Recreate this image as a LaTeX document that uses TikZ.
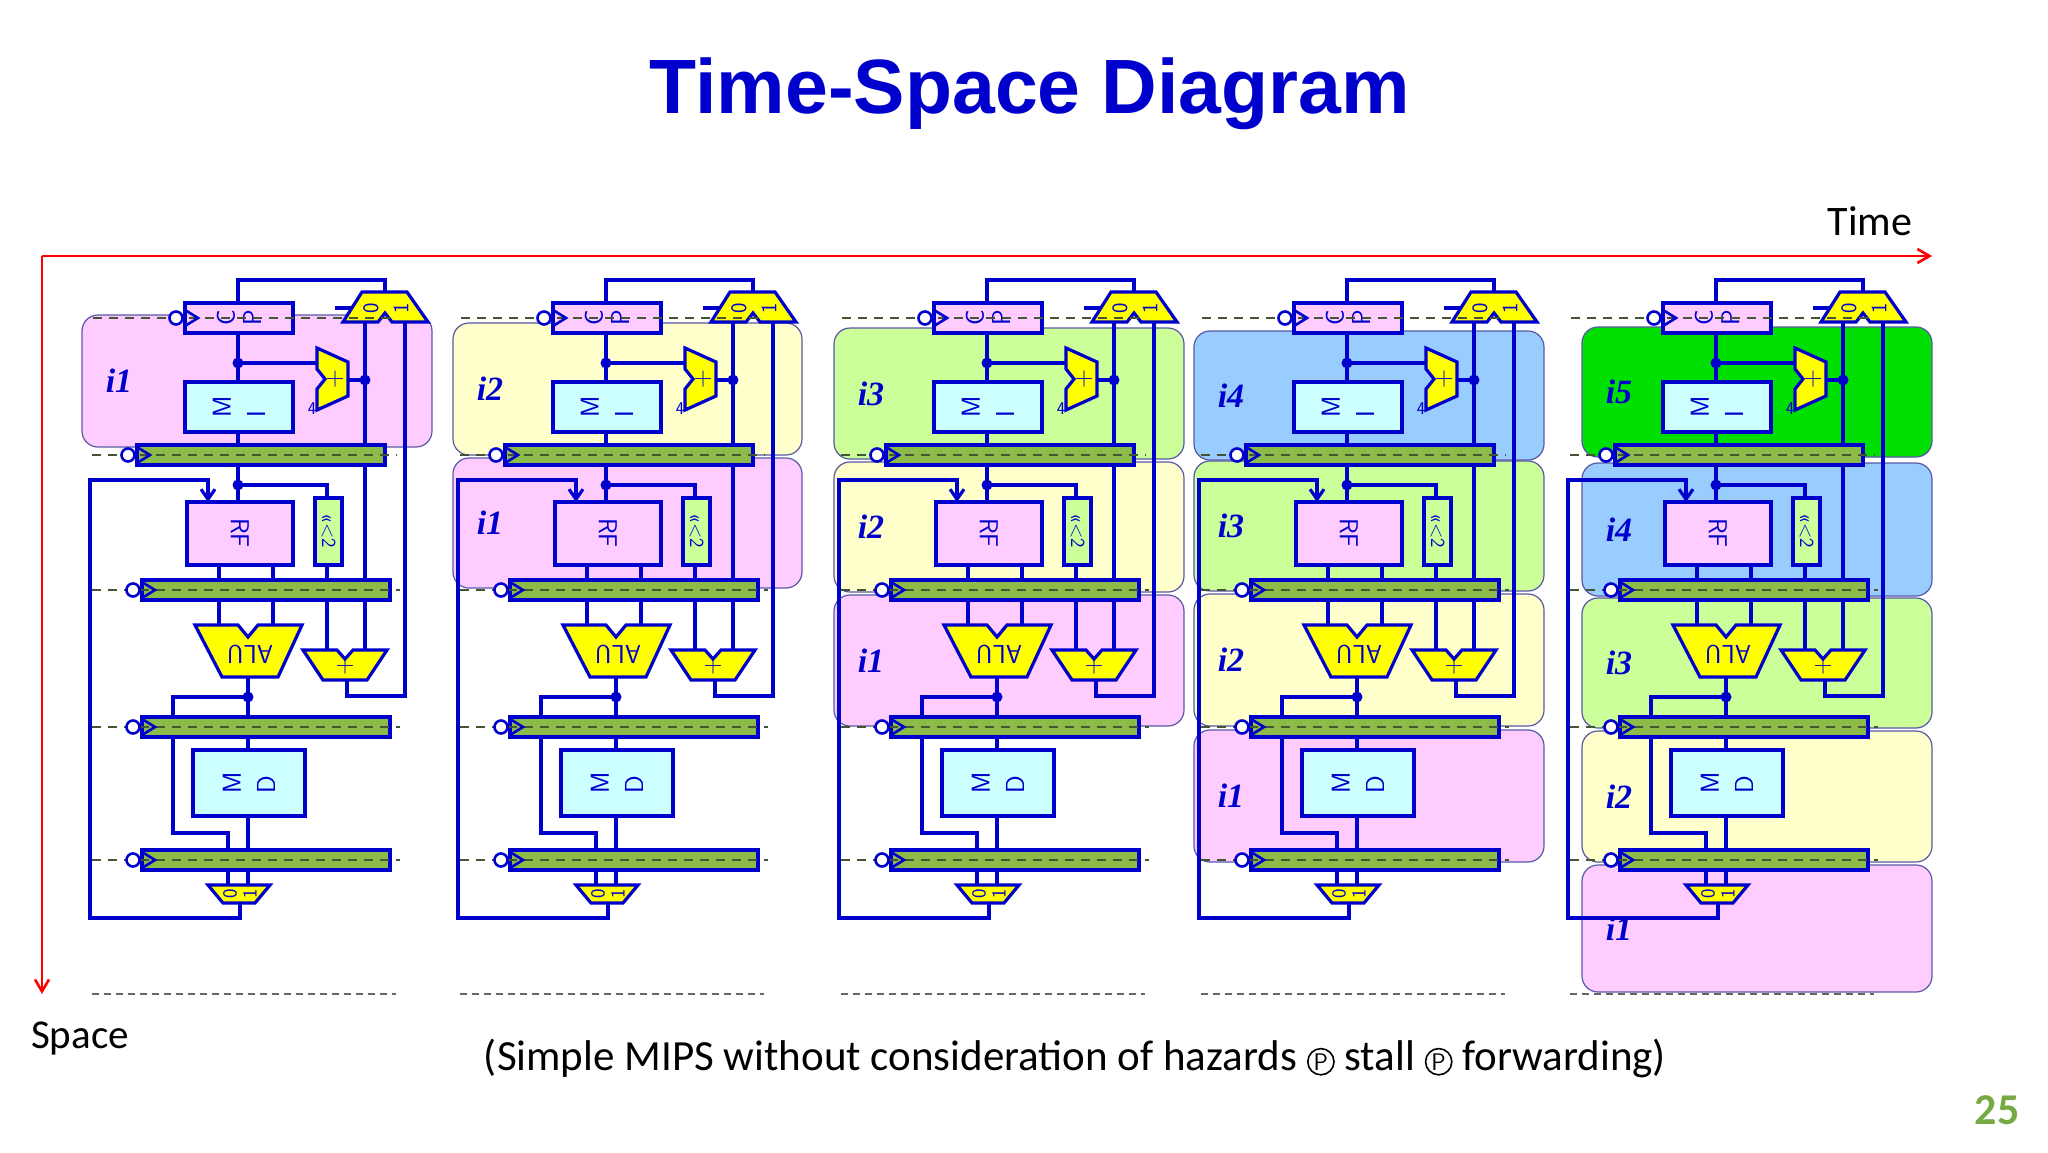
\documentclass[tikz,border=0pt]{standalone}
\usepackage{fontspec}
\setmainfont{Carlito}
\newfontfamily\titlefont{Liberation Sans}
\newfontfamily\ifont{Liberation Serif}
\usetikzlibrary{arrows.meta,calc}
\definecolor{wb}{HTML}{0000CC}
\definecolor{yel}{HTML}{FFFF00}
\definecolor{pnk}{HTML}{FFCCFF}
\definecolor{cyn}{HTML}{CCFFFF}
\definecolor{grb}{HTML}{8DBB4A}
\definecolor{lgr}{HTML}{CCFF99}
\definecolor{lye}{HTML}{FFFFCC}
\definecolor{lbl}{HTML}{99CCFF}
\definecolor{brg}{HTML}{00E000}
\definecolor{dsh}{HTML}{445533}
\definecolor{pgn}{HTML}{77AA44}
\tikzset{
 wire/.style={draw=wb,line width=3.2pt},
 blk/.style={draw=wb,line width=3.2pt},
 dashln/.style={draw=dsh,line width=1.8pt,dash pattern=on 9pt off 7pt},
 lab/.style={text=wb,font=\fontsize{26}{26}\selectfont\sffamily,inner sep=0pt},
 rgn/.style={draw=gray!70!blue,line width=1.2pt,rounded corners=16pt},
 ilab/.style={text=wb,font=\fontsize{34}{34}\selectfont\ifont\bfseries\itshape},
}
\newcommand\rl[1]{\rotatebox{90}{#1}}
\newcommand\cpP{\tikz[baseline=(cc.base)]\node[draw,circle,inner sep=1.5pt,line width=1.6pt,font=\fontsize{24}{24}\selectfont\sffamily] (cc) {P};}
\newcommand\region[6]{\filldraw[rgn,fill=#5] (#1,#2) rectangle (#3,#4);
 \node[ilab] (lab#6#1) at ($(#1,#2)!0.5!(#1,#4)+(37,0)$) {#6};}
\newcommand\clk[2]{\draw[wire,line width=2.6pt,fill=white] (#1-9,#2) circle (6.5);
 \draw[wire,line width=2.6pt] (#1,#2-8)--(#1+13,#2)--(#1,#2+8);}
\newcommand\dott[2]{\fill[wb] (#1,#2) circle (5.5);}
\newcommand\onecol[2]{%
\begin{scope}[xshift=#1pt]
 \draw[wire] (238,333)--(238,280)--(385,280)--(385,292);
 \draw[wire] (335,308)--(352,308);
 \draw[wire] (238,333)--(238,445);
 \draw[wire] (238,363)--(317,363);
 \draw[wire] (348,380)--(365,380);
 \draw[wire] (365,322)--(365,650);
 \draw[wire] (405,322)--(405,696)--(347,696)--(347,680);
 \draw[wire] (238,465)--(238,502);
 \draw[wire] (238,485)--(327,485)--(327,498);
 \draw[wire] (240,903)--(240,918)--(90,918)--(90,480)--(208,480);
 \draw[wire,-{Straight Barb[length=10pt,width=14pt]}] (208,478)--(208,502);
 \draw[wire] (219,565)--(219,625); \draw[wire] (273,565)--(273,625);
 \draw[wire] (327,565)--(327,650);
 \draw[wire] (248,677)--(248,750);
 \draw[wire] (248,697)--(173,697)--(173,833)--(228,833)--(228,885);
 \draw[wire] (248,816)--(248,885);
 \filldraw[blk,fill=yel] (362,292)--(407,292)--(428,322)--(392,322)--(385,313)--(378,322)--(343,322)--cycle;
 \node[lab,rotate=90,font=\fontsize{22}{22}\selectfont\sffamily] (m0#2) at (371,308) {0};
 \node[lab,rotate=90,font=\fontsize{22}{22}\selectfont\sffamily] (m1#2) at (401,308) {1};
 \filldraw[blk,fill=pnk] (185,303) rectangle (293,333);
 \node[lab] (pc#2) at (239,318) {\rl{C}\ \rl{P}};
 \filldraw[blk,fill=yel] (317,348)--(348,362)--(348,396)--(317,410)--(317,389)--(325,379)--(317,369)--cycle;
 \node[lab] (inc#2) at (335,379) {+};
 \node[lab,font=\fontsize{18}{18}\selectfont\sffamily] (four#2) at (312,409) {4};
 \filldraw[blk,fill=cyn] (185,382) rectangle (293,432);
 \node[lab] (im#2) at (239,407) {\rl{M}\ \ \rl{I}};
 \filldraw[blk,fill=grb] (137,445) rectangle (385,465);
 \filldraw[blk,fill=lgr] (315,498) rectangle (342,565);
 \node[lab,rotate=-90,font=\fontsize{20}{20}\selectfont\sffamily] (sh#2) at (328.5,531) {<<<2};
 \filldraw[blk,fill=pnk] (187,502) rectangle (293,565);
 \node[lab,rotate=-90] (rf#2) at (240,533) {RF};
 \filldraw[blk,fill=grb] (142,580) rectangle (390,600);
 \filldraw[blk,fill=yel] (195,625)--(238,625)--(248,637)--(258,625)--(302,625)--(278,677)--(222,677)--cycle;
 \node[lab,rotate=180] (alu#2) at (250,654) {ALU};
 \filldraw[blk,fill=yel] (303,650)--(337,650)--(345,659)--(353,650)--(387,650)--(367,680)--(323,680)--cycle;
 \node[lab] (badd#2) at (345,666) {+};
 \filldraw[blk,fill=grb] (142,717) rectangle (390,737);
 \filldraw[blk,fill=cyn] (193,750) rectangle (305,816);
 \node[lab] (dm#2) at (249,783) {\rl{M}\ \ \rl{D}};
 \filldraw[blk,fill=grb] (142,850) rectangle (390,870);
 \filldraw[blk,fill=yel] (208,885)--(270,885)--(255,903)--(223,903)--cycle;
 \node[lab,rotate=90,font=\fontsize{20}{20}\selectfont\sffamily] (w0#2) at (230,894) {0};
 \node[lab,rotate=90,font=\fontsize{20}{20}\selectfont\sffamily] (w1#2) at (250,894) {1};
 \draw[dashln] (93,318)--(393,318);
 \draw[dashln] (92,455)--(397,455);
 \draw[dashln] (92,590)--(400,590);
 \draw[dashln] (92,727)--(400,727);
 \draw[dashln] (92,860)--(400,860);
 \clk{185}{318}
 \clk{137}{455} \clk{142}{590} \clk{142}{727} \clk{142}{860}
 \dott{238}{363} \dott{365}{380} \dott{238}{485} \dott{248}{697}
 \draw[draw=gray!80!black,line width=1.6pt,dash pattern=on 7pt off 5pt] (92,994)--(396,994);
\end{scope}}
\begin{document}
\begin{tikzpicture}[x=1pt,y=-1pt]
\useasboundingbox (0,0) rectangle (2048,1152);
\fill[white] (0,0) rectangle (2048,1152);
\node[text=wb,font=\fontsize{77}{77}\selectfont\titlefont\bfseries] (title) at (1030,94) {Time-Space Diagram};
\region{82}{315}{432}{447}{pnk}{i1}
\region{453}{323}{802}{455}{lye}{i2}
\region{453}{458}{802}{588}{pnk}{i1}
\region{834}{328}{1184}{459}{lgr}{i3}
\region{834}{462}{1184}{592}{lye}{i2}
\region{834}{595}{1184}{726}{pnk}{i1}
\region{1194}{331}{1544}{460}{lbl}{i4}
\region{1194}{461}{1544}{591}{lgr}{i3}
\region{1194}{594}{1544}{726}{lye}{i2}
\region{1194}{730}{1544}{862}{pnk}{i1}
\region{1582}{327}{1932}{457}{brg}{i5}
\region{1582}{463}{1932}{596}{lbl}{i4}
\region{1582}{598}{1932}{728}{lgr}{i3}
\region{1582}{731}{1932}{862}{lye}{i2}
\region{1582}{865}{1932}{992}{pnk}{i1}
\onecol{0}{a}
\onecol{368}{b}
\onecol{749}{c}
\onecol{1109}{d}
\onecol{1478}{e}
\coordinate (o) at (42,256);
\coordinate (te) at (1932,256);
\coordinate (se) at (42,994);
\draw[red,line width=2.6pt,-{Straight Barb[length=12pt,width=14pt]}] (o)--(te);
\draw[red,line width=2.6pt,-{Straight Barb[length=12pt,width=14pt]}] (o)--(se);
\node[font=\fontsize{42}{42}\selectfont] (time) at (1870,221) {Time};
\node[font=\fontsize{41}{41}\selectfont] (space) at (80,1038) {Space};
\node[font=\fontsize{43}{43}\selectfont] (cap) at (1075,1058) {(Simple MIPS without consideration of hazards \cpP{} stall \cpP{} forwarding)};
\node[text=pgn,font=\fontsize{44}{44}\selectfont\bfseries] (pg) at (1997,1110) {25};
\end{tikzpicture}
\end{document}
